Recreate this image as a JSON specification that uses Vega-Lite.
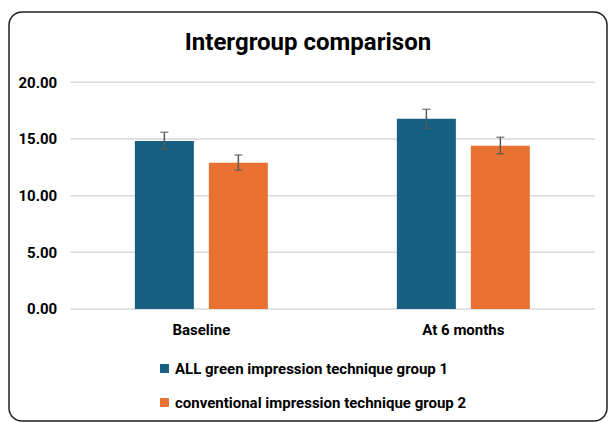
{
  "$schema": "https://vega.github.io/schema/vega-lite/v6.json",
  "autosize": {"type": "fit", "contains": "padding"},
  "width": 608,
  "height": 422,
  "padding": {"left": 9, "top": 12, "right": 1, "bottom": 1},
  "background": "white",
  "config": {
    "font": "Roboto",
    "view": {"stroke": "#1f1f1f", "strokeWidth": 1.5, "cornerRadius": 13}
  },
  "title": {
    "text": "Intergroup comparison",
    "fontSize": 24,
    "fontWeight": "bold",
    "font": "Roboto",
    "color": "#000000",
    "anchor": "middle",
    "frame": "group",
    "baseline": "alphabetic",
    "offset": -62
  },
  "datasets": {
    "grid": [{"v": 0}, {"v": 5}, {"v": 10}, {"v": 15}, {"v": 20}],
    "bars": [
      {"time": "Baseline", "group": "ALL green impression technique group 1", "mean": 14.83, "lo": 14.09, "hi": 15.59},
      {"time": "Baseline", "group": "conventional impression technique group 2", "mean": 12.91, "lo": 12.24, "hi": 13.59},
      {"time": "At 6 months", "group": "ALL green impression technique group 1", "mean": 16.79, "lo": 15.94, "hi": 17.62},
      {"time": "At 6 months", "group": "conventional impression technique group 2", "mean": 14.41, "lo": 13.70, "hi": 15.15}
    ]
  },
  "resolve": {"scale": {"x": "independent"}},
  "layer": [
    {
      "data": {"name": "grid"},
      "mark": {"type": "rule", "color": "#D9D9D9", "strokeWidth": 1.5},
      "encoding": {
        "x": {"datum": 0, "type": "quantitative", "scale": {"domain": [-0.1177, 1.0228], "nice": false, "zero": false}, "axis": null},
        "x2": {"datum": 1},
        "y": {
          "field": "v", "type": "quantitative",
          "scale": {"domain": [-9.881, 26.202], "nice": false, "zero": false},
          "axis": {"title": null, "values": [0, 5, 10, 15, 20], "format": ".2f", "offset": -61.7, "labelPadding": 14, "ticks": false, "domain": false, "grid": false, "labelFontSize": 15, "labelFontWeight": "bold", "labelColor": "#000000", "labelFont": "Roboto"}
        }
      }
    },
    {
      "data": {"name": "bars"},
      "encoding": {
        "x": {
          "field": "time", "type": "nominal",
          "scale": {"domain": ["Baseline", "At 6 months"], "paddingInner": 0.4924, "paddingOuter": 0.3874, "align": 0.62, "round": false},
          "axis": {"title": null, "orient": "bottom", "offset": -112, "labelPadding": 13, "ticks": false, "domain": false, "labelAngle": 0, "labelFontSize": 15, "labelFontWeight": "bold", "labelColor": "#000000", "labelFont": "Roboto"}
        },
        "xOffset": {
          "field": "group", "type": "nominal",
          "scale": {"domain": ["ALL green impression technique group 1", "conventional impression technique group 2"], "paddingInner": 0.2027, "paddingOuter": 0, "round": false}
        }
      },
      "layer": [
        {
          "mark": {"type": "bar"},
          "encoding": {
            "y": {"field": "mean", "type": "quantitative"},
            "y2": {"datum": 0},
            "color": {
              "field": "group", "type": "nominal",
              "scale": {"domain": ["ALL green impression technique group 1", "conventional impression technique group 2"], "range": ["#156082", "#E97132"]},
              "legend": {
                "title": null, "orient": "none", "legendX": 148, "legendY": 349, "direction": "vertical",
                "symbolType": "square", "symbolSize": 80, "symbolStrokeWidth": 0,
                "labelFontSize": 15, "labelFontWeight": "bold", "labelColor": "#000000", "labelFont": "Roboto",
                "rowPadding": 18, "labelOffset": 3, "labelLimit": 0
              }
            }
          }
        },
        {
          "mark": {"type": "rule", "color": "#595959", "strokeWidth": 1.5},
          "encoding": {
            "y": {"field": "lo", "type": "quantitative"},
            "y2": {"field": "hi"}
          }
        },
        {
          "mark": {"type": "tick", "color": "#595959", "thickness": 1.5, "size": 8, "orient": "horizontal"},
          "encoding": {"y": {"field": "hi", "type": "quantitative"}}
        },
        {
          "mark": {"type": "tick", "color": "#595959", "thickness": 1.5, "size": 8, "orient": "horizontal"},
          "encoding": {"y": {"field": "lo", "type": "quantitative"}}
        }
      ]
    }
  ]
}
